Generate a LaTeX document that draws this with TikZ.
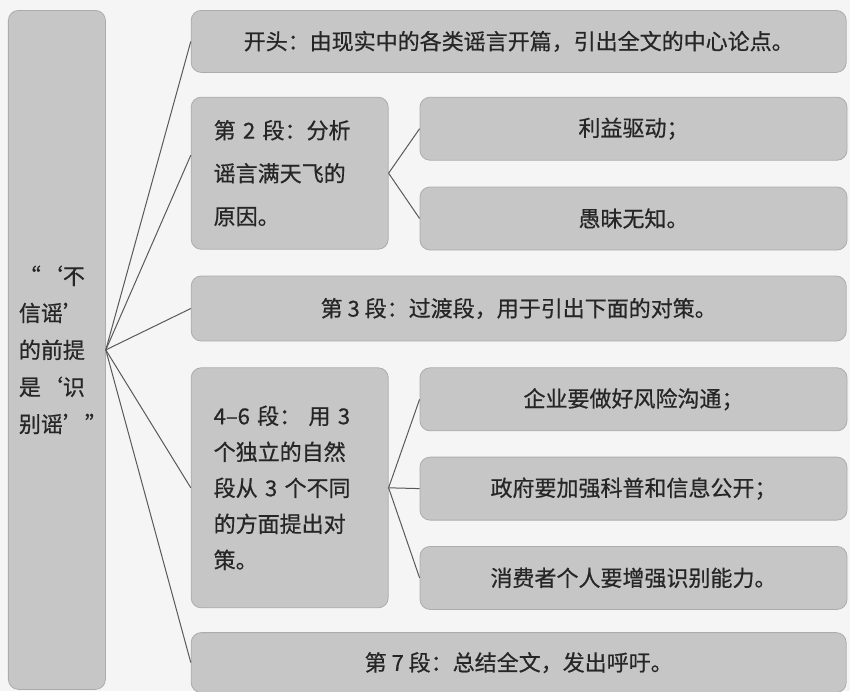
\documentclass[tikz,border=0pt]{standalone}
\usepackage{fontspec}
\newfontfamily\cjk{Noto Sans CJK SC}[FakeBold=0.6]
\usetikzlibrary{positioning}

\begin{document}
\begin{tikzpicture}[
	node distance=12.5pt,
	box/.style={draw=gray!65, fill=gray!45, rounded corners=5pt, text=black!85, inner sep=0pt, font=\cjk\fontsize{11pt}{13pt}\selectfont},
	wide/.style={box, minimum width=327.5pt, minimum height=31.5pt},
	mid/.style={box, minimum width=98.5pt, text width=76pt, align=left},
	small/.style={box, minimum width=213.5pt, minimum height=31.5pt},
	link/.style={draw=black!65, line width=0.5pt}
]
	\useasboundingbox[fill=gray!8] (-4pt,5pt) rectangle (421pt,-340.5pt);
	\node (m) [box, anchor=north west, minimum width=48.5pt, minimum height=339.5pt, text width=38pt, align=left, font=\cjk\fontsize{11pt}{18.5pt}\selectfont] at (0,0) {“‘不\\信谣’\\的前提\\是‘识\\别谣’”};
	\node (p1) [wide, minimum height=31pt, right=42.5pt of m.north east, anchor=north west] {开头：由现实中的各类谣言开篇，引出全文的中心论点。};
	\node (p2) [mid, minimum height=76pt, below=12pt of p1.south west, anchor=north west, font=\cjk\fontsize{11pt}{21.5pt}\selectfont] {第 2 段：分析\\谣言满天飞的\\原因。};
	\node (q1) [small, right=15.5pt of p2.north east, anchor=north west] {利益驱动；};
	\node (q2) [small, below=13pt of q1] {愚昧无知。};
	\node (p3) [wide, minimum height=32.5pt, below=13pt of p2.south west, anchor=north west] {第 3 段：过渡段，用于引出下面的对策。};
	\node (p4) [mid, minimum height=120pt, below=13pt of p3.south west, anchor=north west, font=\cjk\fontsize{11pt}{18pt}\selectfont] {4–6 段： 用 3\\个独立的自然\\段从 3 个不同\\的方面提出对\\策。};
	\node (q3) [small, right=15.5pt of p4.north east, anchor=north west] {企业要做好风险沟通；};
	\node (q4) [small, below=12.75pt of q3] {政府要加强科普和信息公开；};
	\node (q5) [small, below=12.75pt of q4] {消费者个人要增强识别能力。};
	\node (p5) [wide, minimum height=30pt, below=12pt of p4.south west, anchor=north west] {第 7 段：总结全文，发出呼吁。};
	\draw[link]
		(m.east) edge (p1.west)
		(m.east) edge ([yshift=9pt]p2.west)
		(m.east) edge (p3.west)
		(m.east) edge (p4.west)
		(m.east) edge (p5.west)
		(p2.east) edge (q1.west)
		(p2.east) edge (q2.west)
		(p4.east) edge (q3.west)
		(p4.east) edge (q4.west)
		(p4.east) edge (q5.west)
	;
\end{tikzpicture}
\end{document}
